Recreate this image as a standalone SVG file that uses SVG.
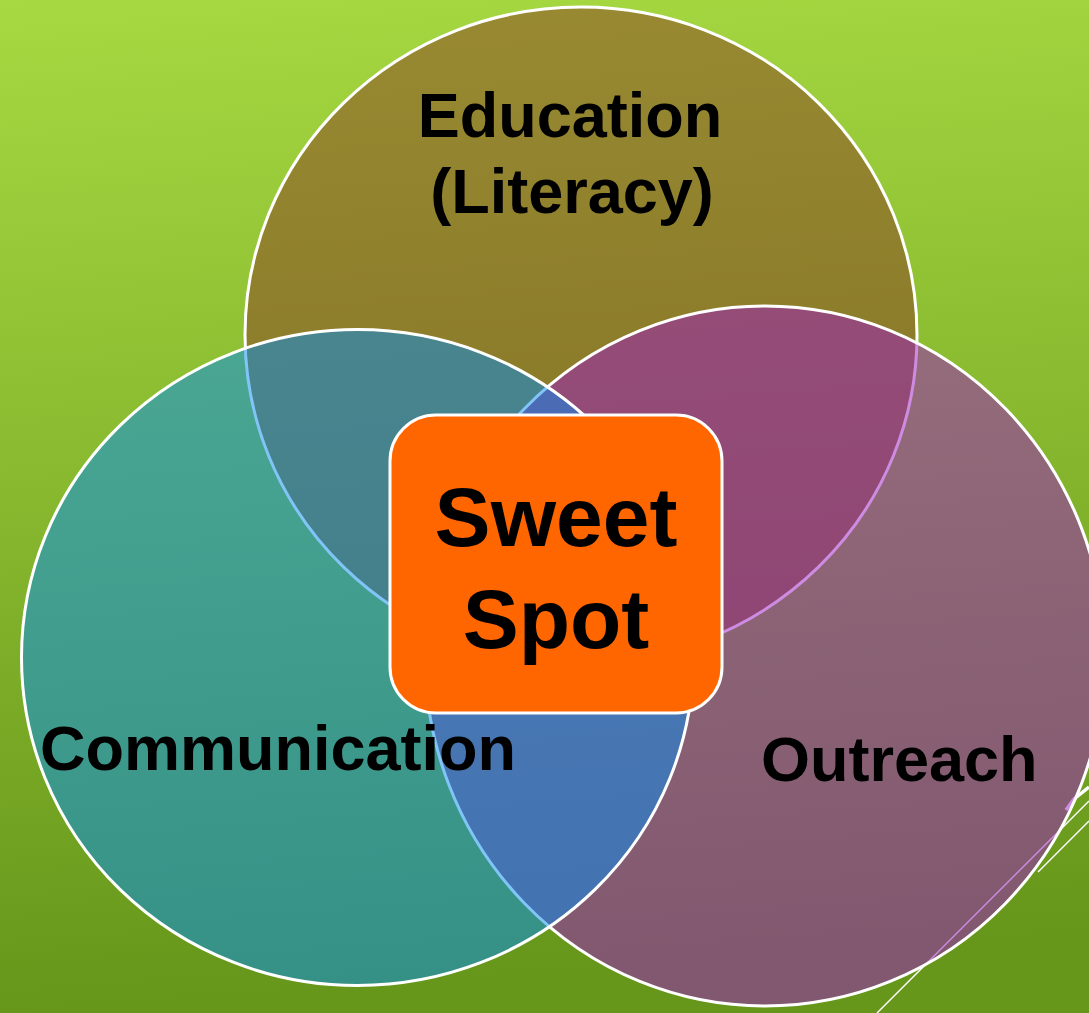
<svg xmlns="http://www.w3.org/2000/svg" width="1089" height="1013" viewBox="0 0 1089 1013">
  <defs>
    <linearGradient id="bg" x1="0" y1="0" x2="0.08" y2="1">
      <stop offset="0" stop-color="#a7d942"/>
      <stop offset="1" stop-color="#66961a"/>
    </linearGradient>
  </defs>
  <style>
    .set { stroke: #ffffff; stroke-width: 3; fill-opacity: 0.5; }
    .lbl { font-family: "Liberation Sans", Arial, sans-serif; font-weight: bold; fill: #000000; }
    .deco { stroke: #ffffff; fill: none; stroke-width: 1.5; }
  </style>
  <rect x="0" y="0" width="1089" height="1013" fill="url(#bg)"/>
  <g id="decoration">
    <line class="deco" x1="877" y1="1013" x2="1089" y2="801"/>
    <line class="deco" x1="1038" y1="872" x2="1089" y2="821"/>
    <path d="M1066 810 L1074 799 L1089 787" stroke="#ffffff" stroke-width="3.5" fill="none"/>
  </g>
  <g id="connectors"></g>
  <g id="education">
    <ellipse class="set" cx="581" cy="335" rx="336" ry="328" fill="#8c3c24"/>
  </g>
  <g id="outreach">
    <ellipse class="set" cx="765" cy="656" rx="340" ry="350" fill="#9c1ac3"/>
  </g>
  <g id="communication">
    <ellipse class="set" cx="357.5" cy="657.5" rx="336" ry="328" fill="#048cf1"/>
  </g>
  <g id="labels">
    <text class="lbl" x="570" y="137" font-size="63" text-anchor="middle">Education</text>
    <text class="lbl" x="572" y="213" font-size="63" text-anchor="middle">(Literacy)</text>
    <text class="lbl" x="40" y="770" font-size="63">Communication</text>
    <text class="lbl" x="761" y="781" font-size="63">Outreach</text>
  </g>
  <g id="sweet-spot">
    <rect x="390" y="415" width="332" height="298" rx="46" ry="46" fill="#ff6600" stroke="#ffffff" stroke-width="3"/>
    <text class="lbl" x="556" y="546" font-size="84" text-anchor="middle">Sweet</text>
    <text class="lbl" x="556" y="648" font-size="84" text-anchor="middle">Spot</text>
  </g>
</svg>
